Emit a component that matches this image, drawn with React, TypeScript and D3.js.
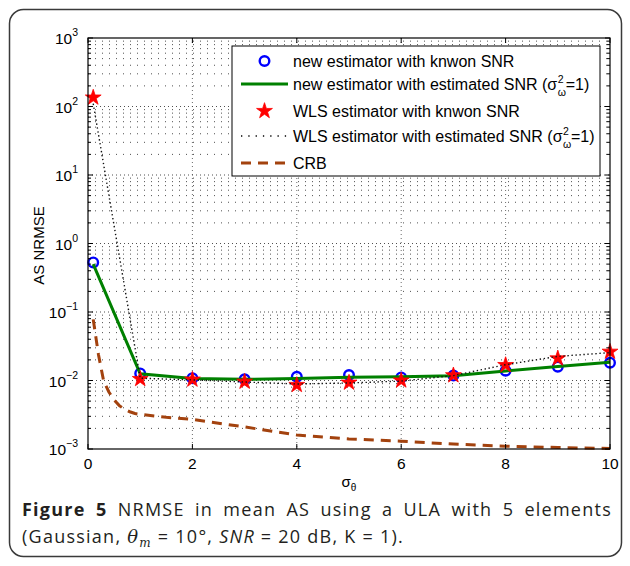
import { useEffect, useRef } from 'react'
import * as d3 from 'd3'

// sigma_theta values where the estimators were evaluated
const sigmaTheta = [0.1, 1, 2, 3, 4, 5, 6, 7, 8, 9, 10]
const newKnownSnr = [0.53, 0.0127, 0.0108, 0.0104, 0.0113, 0.012, 0.0111, 0.0118, 0.0139, 0.0159, 0.0182]
const newEstSnr = [0.5, 0.0125, 0.0107, 0.0104, 0.0107, 0.0112, 0.0113, 0.0117, 0.0138, 0.016, 0.0185]
const wlsKnownSnr = [135, 0.0105, 0.0103, 0.0096, 0.0086, 0.0093, 0.01, 0.0119, 0.0168, 0.021, 0.0263]
const wlsEstSnr = [110, 0.0108, 0.0102, 0.0095, 0.0089, 0.0092, 0.0098, 0.0118, 0.017, 0.0225, 0.0255]
// CRB is drawn on a finer grid
const crbSigma = [0.1, 0.2, 0.3, 0.4, 0.5, 0.6, 0.7, 0.8, 0.9, 1, 1.5, 2, 3, 4, 5, 6, 7, 8, 9, 10]
const crbValues = [0.078, 0.024, 0.0098, 0.0068, 0.0052, 0.0043, 0.0038, 0.0035, 0.0033, 0.0032, 0.0029, 0.0027, 0.0021, 0.0016, 0.0014, 0.0013, 0.00118, 0.0011, 0.00105, 0.00102]

const xTicks = [0, 2, 4, 6, 8, 10]
const yExponents = [-3, -2, -1, 0, 1, 2, 3]

const legendLabels = [
  'new estimator with knwon SNR',
  'new estimator with estimated SNR (σ',
  'WLS estimator with knwon SNR',
  'WLS estimator with estimated SNR (σ',
  'CRB',
]

const AXIS_FONT = '"Liberation Sans", Arial, Helvetica, sans-serif'
const CAPTION_FONT = '"Open Sans", sans-serif'
const GREEN = '#008000'
const BROWN = '#a3420e'

export default function App() {
  const svgRef = useRef<SVGSVGElement>(null)

  useEffect(() => {
    const w = 630
    const h = 566
    const svg = d3.select(svgRef.current).attr('width', w).attr('height', h)
    svg.selectAll('*').remove()

    const left = 88, right = 610, top = 38, bottom = 449

    //frame
    svg.append('rect')
      .attr('x', 9.5).attr('y', 9.5)
      .attr('width', 612).attr('height', 547)
      .attr('rx', 14)
      .attr('fill', 'white')
      .attr('stroke', '#3a3a3a')
      .attr('stroke-width', 1.5)

    //scaling
    const xScale = d3.scaleLinear().domain([0, 10]).range([left, right])
    const yScale = d3.scaleLog().domain([1e-3, 1e3]).range([bottom, top])

    //grid
    const grid = svg.append('g')
    const minorY: number[] = []
    yExponents.slice(0, -1).forEach(e => {
      for (let k = 2; k <= 9; k++) minorY.push(k * Math.pow(10, e))
    })
    grid.selectAll('.hminor')
      .data(minorY)
      .join('line')
        .attr('x1', left).attr('x2', right)
        .attr('y1', d => yScale(d)).attr('y2', d => yScale(d))
        .attr('stroke', '#222')
        .attr('stroke-width', 0.8)
        .attr('stroke-dasharray', '1,6')
    grid.selectAll('.hmajor')
      .data(yExponents.slice(1, -1))
      .join('line')
        .attr('x1', left).attr('x2', right)
        .attr('y1', d => yScale(Math.pow(10, d))).attr('y2', d => yScale(Math.pow(10, d)))
        .attr('stroke', '#222')
        .attr('stroke-width', 0.8)
        .attr('stroke-dasharray', '1,3')
    grid.selectAll('.vmajor')
      .data(xTicks.slice(1, -1))
      .join('line')
        .attr('x1', d => xScale(d)).attr('x2', d => xScale(d))
        .attr('y1', top).attr('y2', bottom)
        .attr('stroke', '#444')
        .attr('stroke-width', 0.8)
        .attr('stroke-dasharray', '1,3')

    //data
    const line = d3.line<[number, number]>()
      .x(d => xScale(d[0]))
      .y(d => yScale(d[1]))
    const pairs = (ys: number[]) => sigmaTheta.map((x, i) => [x, ys[i]] as [number, number])

    svg.selectAll('.circ')
      .data(pairs(newKnownSnr))
      .join('circle')
        .attr('cx', d => xScale(d[0]))
        .attr('cy', d => yScale(d[1]))
        .attr('r', 4.8)
        .attr('fill', 'none')
        .attr('stroke', '#0000ff')
        .attr('stroke-width', 2.4)

    svg.append('path')
      .attr('d', line(pairs(newEstSnr)))
      .attr('fill', 'none')
      .attr('stroke', GREEN)
      .attr('stroke-width', 3)

    const star = d3.symbol().type(d3.symbolStar).size(78)
    svg.selectAll('.star')
      .data(pairs(wlsKnownSnr))
      .join('path')
        .attr('d', star())
        .attr('transform', d => `translate(${xScale(d[0])},${yScale(d[1])})`)
        .attr('fill', '#ff0000')
        .attr('stroke', '#ff0000')
        .attr('stroke-width', 0.8)

    svg.append('path')
      .attr('d', line(pairs(wlsEstSnr)))
      .attr('fill', 'none')
      .attr('stroke', '#111')
      .attr('stroke-width', 1.4)
      .attr('stroke-dasharray', '1.4,2.6')

    svg.append('path')
      .attr('d', line(crbSigma.map((x, i) => [x, crbValues[i]] as [number, number])))
      .attr('fill', 'none')
      .attr('stroke', BROWN)
      .attr('stroke-width', 3)
      .attr('stroke-dasharray', '10,7')

    //axes box and ticks
    const axes = svg.append('g').attr('stroke', '#000')
    axes.append('rect')
      .attr('x', left).attr('y', top)
      .attr('width', right - left).attr('height', bottom - top)
      .attr('fill', 'none')
      .attr('stroke-width', 1.2)
    xTicks.forEach(t => {
      axes.append('line').attr('x1', xScale(t)).attr('x2', xScale(t)).attr('y1', bottom).attr('y2', bottom - 5)
      axes.append('line').attr('x1', xScale(t)).attr('x2', xScale(t)).attr('y1', top).attr('y2', top + 5)
    })
    yExponents.forEach(e => {
      const y = yScale(Math.pow(10, e))
      axes.append('line').attr('x1', left).attr('x2', left + 5).attr('y1', y).attr('y2', y)
      axes.append('line').attr('x1', right).attr('x2', right - 5).attr('y1', y).attr('y2', y)
    })
    minorY.forEach(v => {
      const y = yScale(v)
      axes.append('line').attr('x1', left).attr('x2', left + 3).attr('y1', y).attr('y2', y)
      axes.append('line').attr('x1', right).attr('x2', right - 3).attr('y1', y).attr('y2', y)
    })

    //tick labels
    const labels = svg.append('g').attr('font-family', AXIS_FONT).attr('fill', '#000')
    xTicks.forEach(t => {
      labels.append('text')
        .attr('x', xScale(t)).attr('y', bottom + 20)
        .attr('text-anchor', 'middle')
        .attr('font-size', 15.5)
        .text(t)
    })
    yExponents.forEach(e => {
      const y = yScale(Math.pow(10, e))
      const txt = labels.append('text')
        .attr('x', left - 10).attr('y', y + 6)
        .attr('text-anchor', 'end')
        .attr('font-size', 15.5)
      txt.append('tspan').text('10')
      txt.append('tspan')
        .attr('font-size', 10.5)
        .attr('dy', -8)
        .text(e < 0 ? '\u2212' + Math.abs(e) : String(e))
    })

    //axis titles
    const xt = labels.append('text')
      .attr('x', (left + right) / 2).attr('y', bottom + 38)
      .attr('text-anchor', 'middle')
      .attr('font-size', 15)
    xt.append('tspan').text('σ')
    xt.append('tspan').attr('font-size', 10).attr('dy', 4).text('θ')

    labels.append('text')
      .attr('transform', `translate(44, ${(top + bottom) / 2 + 2}) rotate(-90)`)
      .attr('text-anchor', 'middle')
      .attr('font-size', 15)
      .text('AS NRMSE')

    //legend
    const lg = svg.append('g').attr('font-family', AXIS_FONT)
    lg.append('rect')
      .attr('x', 232).attr('y', 46)
      .attr('width', 368).attr('height', 130)
      .attr('fill', 'white')
      .attr('stroke', '#000')
      .attr('stroke-width', 1)
    const rowY = [61, 84, 111, 136, 163]
    const symX0 = 241, symX1 = 288, textX = 293
    lg.append('circle')
      .attr('cx', (symX0 + symX1) / 2).attr('cy', rowY[0]).attr('r', 4.8)
      .attr('fill', 'none').attr('stroke', '#0000ff').attr('stroke-width', 2.4)
    lg.append('line')
      .attr('x1', symX0).attr('x2', symX1).attr('y1', rowY[1]).attr('y2', rowY[1])
      .attr('stroke', GREEN).attr('stroke-width', 3)
    lg.append('path')
      .attr('d', star())
      .attr('transform', `translate(${(symX0 + symX1) / 2},${rowY[2]})`)
      .attr('fill', '#ff0000').attr('stroke', '#ff0000').attr('stroke-width', 0.8)
    lg.append('line')
      .attr('x1', symX0).attr('x2', symX1).attr('y1', rowY[3]).attr('y2', rowY[3])
      .attr('stroke', '#000').attr('stroke-width', 1.3).attr('stroke-dasharray', '1.3,6')
    lg.append('line')
      .attr('x1', symX0).attr('x2', symX1).attr('y1', rowY[4]).attr('y2', rowY[4])
      .attr('stroke', BROWN).attr('stroke-width', 3).attr('stroke-dasharray', '10,7')

    legendLabels.forEach((label, i) => {
      const t = lg.append('text')
        .attr('x', textX).attr('y', rowY[i] + 5.5)
        .attr('font-size', 16)
        .text(label)
      if (label.endsWith('(σ')) {
        const len = (t.node() as SVGTextElement).getComputedTextLength()
        const sup = lg.append('text')
          .attr('x', textX + len + 0.5).attr('y', rowY[i] - 1)
          .attr('font-size', 10.5).text('2')
        lg.append('text')
          .attr('x', textX + len + 0.5).attr('y', rowY[i] + 12)
          .attr('font-size', 10.5).text('ω')
        const sw = Math.max((sup.node() as SVGTextElement).getComputedTextLength(), 7.5)
        lg.append('text')
          .attr('x', textX + len + sw + 1).attr('y', rowY[i] + 5.5)
          .attr('font-size', 16).text('=1)')
      }
    })

    //caption: tracked text, first line justified
    const cap = svg.append('g').attr('font-family', CAPTION_FONT).attr('fill', '#231f20')
    const line2 = cap.append('text').attr('x', 22).attr('y', 543).attr('font-size', 18)
    line2.append('tspan').text('(Gaussian, ')
    line2.append('tspan').attr('font-family', '"DejaVu Serif", serif').attr('font-style', 'italic').text('θ')
    line2.append('tspan').attr('font-family', '"DejaVu Serif", serif').attr('font-style', 'italic')
      .attr('font-size', 12).attr('dy', 4).text('m')
    line2.append('tspan').attr('dy', -4).text(' = 10°, ')
    line2.append('tspan').attr('font-style', 'italic').text('SNR')
    line2.append('tspan').text(' = 20 dB, K = 1).')
    const n2 = line2.node() as SVGTextElement
    const tracking = Math.max(0, (382 - n2.getComputedTextLength()) / n2.getNumberOfChars())
    line2.attr('letter-spacing', tracking)

    const line1 = cap.append('text').attr('x', 22).attr('y', 516).attr('font-size', 18)
      .attr('letter-spacing', tracking)
    line1.append('tspan').attr('font-weight', 'bold').text('Figure 5')
    line1.append('tspan').text(' NRMSE in mean AS using a ULA with 5 elements')
    const natural = (line1.node() as SVGTextElement).getComputedTextLength()
    line1.attr('word-spacing', Math.max(0, (590 - natural) / 11))
  }, [])

  return (
    <div style={{ position: 'absolute', left: 0, top: 0 }}>
      <svg ref={svgRef} style={{ display: 'block' }}></svg>
    </div>
  )
}
